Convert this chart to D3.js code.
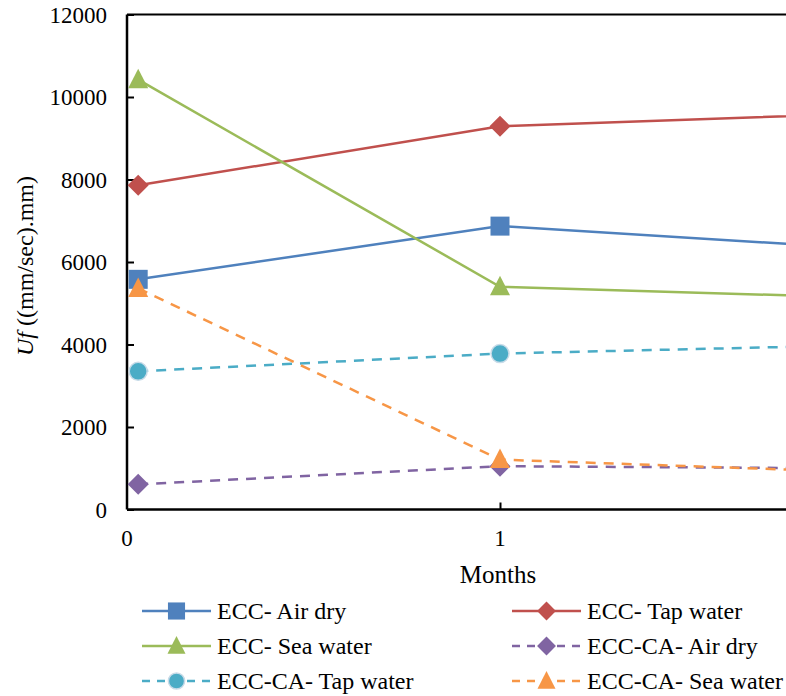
<!DOCTYPE html>
<html><head><meta charset="utf-8">
<script src="https://cdn.jsdelivr.net/npm/d3@7"></script>
<style>body{margin:0;background:#fff}svg{display:block}
svg text{font-family:"Liberation Serif","Times New Roman",serif;}</style>
</head><body>
<svg id="c" width="786" height="696"></svg>
<script>
const months = [0.03, 1, 2];
const seriesNames = ["ECC- Air dry","ECC- Tap water","ECC- Sea water","ECC-CA- Air dry","ECC-CA- Tap water","ECC-CA- Sea water"];
const eccAirDry   = [5580, 6870, 6310];
const eccTap      = [7860, 9290, 9610];
const eccSea      = [10420, 5400, 5130];
const caAirDry    = [610, 1050, 995];
const caTap       = [3350, 3780, 3990];
const caSea       = [5360, 1210, 895];
const yTicks = [0,2000,4000,6000,8000,10000,12000];
const xTicks = [0,1];
const colors = ["#4F81BD","#C0504D","#9BBB59","#8064A2","#4BACC6","#F79646"];
const markers = ["square","diamond","triangle","diamond","circle","triangle"];
const dashed = [false,false,false,true,true,true];
const values = [eccAirDry, eccTap, eccSea, caAirDry, caTap, caSea];

const svg = d3.select("#c");
const x = d3.scaleLinear().domain([0,2]).range([127, 873]);
const y = d3.scaleLinear().domain([0,12000]).range([509.5, 14.5]);

// frame top
svg.append("line").attr("x1",127).attr("x2",786).attr("y1",y(12000)).attr("y2",y(12000)).attr("stroke","#000").attr("stroke-width",2);

// y axis
const ya = svg.append("g").attr("transform","translate(127,0)")
  .call(d3.axisRight(y).tickValues(yTicks).tickSize(7).tickFormat(""));
ya.select(".domain").attr("stroke","#000").attr("stroke-width",2.5).attr("d",`M0,${y(0)}V${y(12000)}`);
ya.selectAll(".tick line").attr("stroke","#000").attr("stroke-width",2);
svg.append("g").selectAll("text").data(yTicks).join("text")
  .attr("x",107).attr("y",d=>y(d)).attr("dy","0.35em").attr("text-anchor","end")
  .attr("font-size",23).attr("fill","#000").text(d=>d);

// x axis
const xa = svg.append("g").attr("transform",`translate(0,${y(0)})`)
  .call(d3.axisTop(x).tickValues(xTicks).tickSize(7).tickFormat(""));
xa.select(".domain").attr("stroke","#000").attr("stroke-width",2.5).attr("d",`M127,0H786`);
xa.selectAll(".tick line").attr("stroke","#000").attr("stroke-width",2);
xa.selectAll(".tick").filter(d=>d===0).select("line").remove();
svg.append("g").selectAll("text").data(xTicks).join("text")
  .attr("x",d=>x(d)).attr("y",538).attr("dy","0.35em").attr("text-anchor","middle")
  .attr("font-size",23).attr("fill","#000").text(d=>d);

// axis titles
svg.append("text").attr("x",498).attr("y",583).attr("text-anchor","middle")
  .attr("font-size",25).attr("fill","#000").text("Months");
const yl = svg.append("text").attr("transform","translate(33,266) rotate(-90)").attr("text-anchor","middle")
  .attr("font-size",24).attr("fill","#000");
yl.append("tspan").attr("font-style","italic").text("Uf");
yl.append("tspan").text(" ((mm/sec).mm)");

function drawMarker(g, type, cx, cy, color, scale){
  const s = scale||1;
  if(type==="square"){
    g.append("rect").attr("x",cx-9.5*s).attr("y",cy-9.5*s).attr("width",19*s).attr("height",19*s).attr("fill",color);
  } else if(type==="diamond"){
    const r=10.5*s;
    g.append("path").attr("d",`M${cx},${cy-r}L${cx+r},${cy}L${cx},${cy+r}L${cx-r},${cy}Z`).attr("fill",color);
  } else if(type==="triangle"){
    const r=10*s;
    g.append("path").attr("d",`M${cx},${cy-r*1.1}L${cx+r},${cy+r*0.85}L${cx-r},${cy+r*0.85}Z`).attr("fill",color);
  } else if(type==="circle"){
    g.append("circle").attr("cx",cx).attr("cy",cy).attr("r",9*s).attr("fill",color)
      .attr("stroke","#c8dbe8").attr("stroke-width",1.5);
  }
}

const line = d3.line().x((d,i)=>x(months[i])).y(d=>y(d));
const plot = svg.append("g");
values.forEach((vals,k)=>{
  const g = plot.append("g");
  g.append("path").attr("d",line(vals)).attr("fill","none").attr("stroke",colors[k])
    .attr("stroke-width",2.5).attr("stroke-dasharray",dashed[k]?"10,8":null);
  vals.forEach((v,i)=>drawMarker(g, markers[k], x(months[i]), y(v), colors[k]));
});

// legend
const legPos = [[142,611],[512,611],[142,646],[512,646],[142,681],[512,681]];
seriesNames.forEach((name,k)=>{
  const [lx,ly] = legPos[k];
  const g = svg.append("g");
  g.append("line").attr("x1",lx).attr("x2",lx+69).attr("y1",ly).attr("y2",ly)
    .attr("stroke",colors[k]).attr("stroke-width",2.5).attr("stroke-dasharray",dashed[k]?"8,7":null);
  drawMarker(g, markers[k], lx+34.5, ly, colors[k], 0.9);
  g.append("text").attr("x",lx+75).attr("y",ly).attr("dy","0.35em")
    .attr("font-size",24).attr("fill","#000").text(name);
});
</script>
</body></html>
